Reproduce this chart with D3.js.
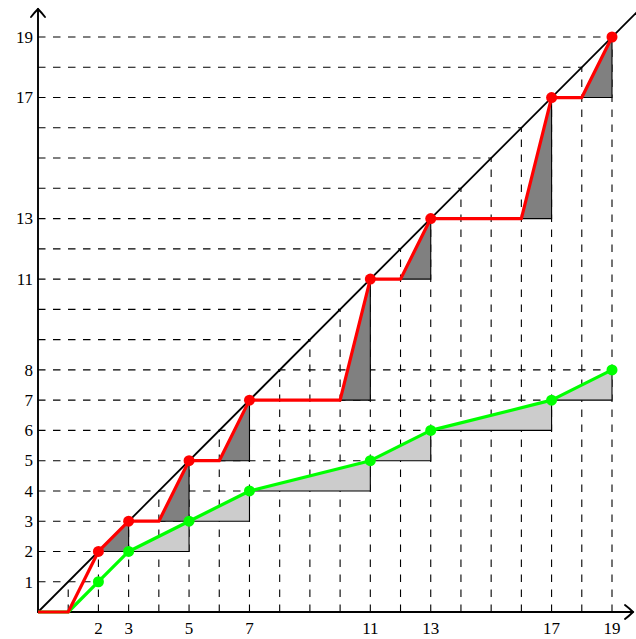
<!DOCTYPE html>
<html>
<head>
<meta charset="utf-8">
<script src="https://cdn.jsdelivr.net/npm/d3@7"></script>
<style>
  html, body { margin: 0; padding: 0; background: #fff; }
  svg { display: block; }
  .tick-label { font-family: "Liberation Serif", "DejaVu Serif", serif; font-size: 17px; fill: #000; }
</style>
</head>
<body>
<svg id="chart" width="636" height="639"></svg>
<script>
// Primes up to 19 and the prime-counting function at each prime
const primes = [2, 3, 5, 7, 11, 13, 17, 19];
const primeCount = [1, 2, 3, 4, 5, 6, 7, 8];

// Red step curve (jumps to each prime on the diagonal)
const redX = [0, 1, 2, 3, 4, 5, 6, 7, 10, 11, 12, 13, 16, 17, 18, 19];
const redY = [0, 0, 2, 3, 3, 5, 5, 7, 7, 11, 11, 13, 13, 17, 17, 19];

// Green curve through (p, pi(p))
const greenX = [0, 1, 2, 3, 5, 7, 11, 13, 17, 19];
const greenY = [0, 0, 1, 2, 3, 4, 5, 6, 7, 8];

// Axis labels
const xTickLabels = [2, 3, 5, 7, 11, 13, 17, 19];
const yTickLabels = [1, 2, 3, 4, 5, 6, 7, 8, 11, 13, 17, 19];
const gridMax = 19;

const svg = d3.select("#chart");
const x = d3.scaleLinear().domain([0, 19]).range([38, 612]);
const y = d3.scaleLinear().domain([0, 19]).range([612, 37]);

const line = d3.line().x(d => x(d[0])).y(d => y(d[1]));

// Dashed guide lines
const grid = svg.append("g")
  .attr("stroke", "#000").attr("stroke-width", 1.1)
  .attr("stroke-dasharray", "7.5,7.5").attr("fill", "none");

for (let n = 1; n <= gridMax; n++) {
  let xEnd = n;
  const k = primeCount.indexOf(n);
  if (k >= 0) xEnd = Math.max(n, primes[k]);
  grid.append("path").attr("d", line([[0, n], [xEnd, n]]));
  grid.append("path").attr("d", line([[n, 0], [n, n]]));
}

// Shaded triangles under the green segments
const lightTri = svg.append("g");
for (let i = 2; i < primes.length; i++) {
  const a = [primes[i - 1], primeCount[i - 1]];
  const b = [primes[i], primeCount[i]];
  const c = [primes[i], primeCount[i - 1]];
  lightTri.append("path").attr("d", line([a, b, c]) + "Z")
    .attr("fill", "#cccccc").attr("stroke", "none");
  lightTri.append("path").attr("d", line([a, c, b]))
    .attr("fill", "none").attr("stroke", "#000").attr("stroke-width", 1.1);
}

// Shaded triangles under the red rising segments
const darkTri = svg.append("g");
for (let i = 1; i < primes.length; i++) {
  const a = [primes[i] - 1, primes[i - 1]];
  const b = [primes[i], primes[i]];
  const c = [primes[i], primes[i - 1]];
  darkTri.append("path").attr("d", line([a, b, c]) + "Z")
    .attr("fill", "#808080").attr("stroke", "none");
  darkTri.append("path").attr("d", line([a, c, b]))
    .attr("fill", "none").attr("stroke", "#000").attr("stroke-width", 1.1);
}

// Diagonal y = x
svg.append("path").attr("d", line([[0, 0], [20, 20]]))
  .attr("stroke", "#000").attr("stroke-width", 1.8).attr("fill", "none");

// Axes with arrow tips
const axes = svg.append("g").attr("stroke", "#000").attr("fill", "none")
  .attr("stroke-width", 1.9).attr("stroke-linecap", "round");
axes.append("path").attr("d", `M${x(0)},${y(0)} H633`);
axes.append("path").attr("d", `M${x(0)},${y(0)} V9`);
axes.append("path").attr("d", `M${x(0) - 7},17 C${x(0) - 4},13 ${x(0) - 1},10 ${x(0)},9 C${x(0) + 1},10 ${x(0) + 4},13 ${x(0) + 7},17`);
axes.append("path").attr("d", `M625,${y(0) - 7} C629,${y(0) - 4} 632,${y(0) - 1} 633,${y(0)} C632,${y(0) + 1} 629,${y(0) + 4} 625,${y(0) + 7}`);

// Green curve and points
svg.append("path").attr("d", line(greenX.map((v, i) => [v, greenY[i]])))
  .attr("stroke", "#00ff00").attr("stroke-width", 3.2).attr("fill", "none")
  .attr("stroke-linejoin", "round");
svg.append("g").selectAll("circle").data(primes).join("circle")
  .attr("cx", d => x(d)).attr("cy", (d, i) => y(primeCount[i]))
  .attr("r", 5.5).attr("fill", "#00ff00");

// Red step curve and points
svg.append("path").attr("d", line(redX.map((v, i) => [v, redY[i]])))
  .attr("stroke", "#ff0000").attr("stroke-width", 3.2).attr("fill", "none")
  .attr("stroke-linejoin", "round");
svg.append("g").selectAll("circle").data(primes).join("circle")
  .attr("cx", d => x(d)).attr("cy", d => y(d))
  .attr("r", 5.5).attr("fill", "#ff0000");

// Tick labels
svg.append("g").selectAll("text").data(xTickLabels).join("text")
  .attr("class", "tick-label")
  .attr("x", d => x(d)).attr("y", 634)
  .attr("text-anchor", "middle")
  .text(d => d);

svg.append("g").selectAll("text").data(yTickLabels).join("text")
  .attr("class", "tick-label")
  .attr("x", 33).attr("y", d => y(d))
  .attr("dy", "0.34em")
  .attr("text-anchor", "end")
  .text(d => d);
</script>
</body>
</html>
